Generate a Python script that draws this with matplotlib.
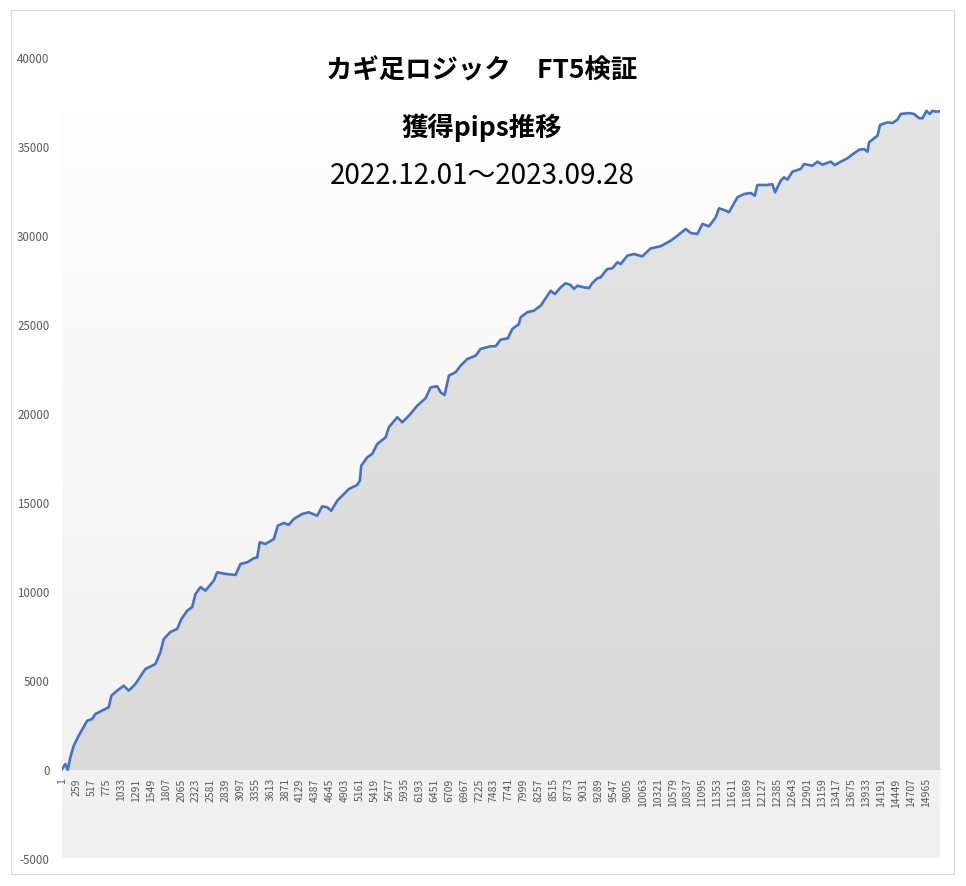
import numpy as np
import matplotlib
matplotlib.use("Agg")
from matplotlib import pyplot as plt
from matplotlib.colors import LinearSegmentedColormap
from matplotlib.patches import Rectangle

plt.rcParams['font.family'] = ['Noto Sans CJK JP', 'DejaVu Sans']

# trade number and cumulative pips
trade_no = [1, 60, 100, 147, 204, 290, 436, 523, 580, 810, 857, 956, 1070, 1157,
            1273, 1446, 1620, 1706, 1763, 1880, 1996, 2070, 2169, 2256, 2313, 2400,
            2486, 2630, 2689, 2833, 3006, 3093, 3209, 3323, 3382, 3427, 3526, 3670,
            3739, 3843, 3930, 4016, 4162, 4276, 4422, 4508, 4595, 4665, 4768, 4883,
            4970, 5115, 5160, 5185, 5289, 5375, 5462, 5606, 5663, 5808, 5895, 6010,
            6155, 6299, 6386, 6502, 6559, 6628, 6703, 6819, 6906, 7021, 7165, 7252,
            7425, 7512, 7599, 7725, 7801, 7916, 7945, 8061, 8176, 8292, 8378, 8465,
            8540, 8639, 8725, 8812, 8869, 8928, 9042, 9129, 9188, 9275, 9332, 9390,
            9448, 9535, 9621, 9679, 9795, 9909, 10054, 10198, 10372, 10545, 10661,
            10805, 10892, 11008, 11094, 11208, 11324, 11382, 11498, 11555, 11701,
            11815, 11931, 12001, 12047, 12220, 12307, 12352, 12451, 12508, 12567,
            12654, 12798, 12855, 13000, 13087, 13174, 13318, 13387, 13491, 13607,
            13665, 13808, 13895, 13954, 13981, 14068, 14127, 14172, 14300, 14387,
            14473, 14530, 14674, 14761, 14848, 14907, 14976, 15033, 15080, 15137, 15210]
pips = [0, 280, -40, 670, 1310, 1870, 2710, 2810, 3090, 3470, 4120, 4400, 4680, 4400,
        4780, 5620, 5900, 6570, 7300, 7700, 7870, 8430, 8890, 9100, 9830, 10220,
        10020, 10580, 11050, 10960, 10900, 11520, 11610, 11840, 11890, 12740, 12640, 12920,
        13670, 13820, 13720, 14050, 14330, 14420, 14230, 14760, 14700, 14510, 15070, 15450,
        15730, 15960, 16200, 17040, 17510, 17700, 18260, 18630, 19200, 19760, 19480, 19850,
        20410, 20830, 21440, 21500, 21160, 21010, 22100, 22290, 22660, 23030, 23220, 23600,
        23750, 23750, 24120, 24200, 24720, 25000, 25380, 25660, 25750, 26030, 26440, 26870,
        26680, 27060, 27290, 27190, 26970, 27150, 27060, 27020, 27300, 27570, 27620, 27870,
        28090, 28130, 28470, 28370, 28840, 28930, 28800, 29250, 29370, 29680, 29960,
        30340, 30110, 30060, 30620, 30490, 30990, 31500, 31370, 31280, 32120,
        32300, 32360, 32210, 32810, 32810, 32860, 32400, 33050, 33240, 33110,
        33560, 33710, 33990, 33890, 34120, 33950, 34120, 33930, 34120, 34310,
        34460, 34790, 34830, 34680, 35210, 35430, 35580, 36180, 36330, 36290,
        36480, 36800, 36850, 36800, 36560, 36560, 36980, 36800, 36980, 36930, 36950]

last_trade = 15210
x_ticks = list(range(1, 15000, 258))   # 1, 259, 517 ... 14965
x_tick_labels = [str(t) for t in x_ticks]
y_ticks = [-5000, 0, 5000, 10000, 15000, 20000, 25000, 30000, 35000, 40000]

title_lines = ["カギ足ロジック　FT5検証", "獲得pips推移", "2022.12.01～2023.09.28"]

fig = plt.figure(figsize=(9.66, 8.87), dpi=100)
ax = fig.add_axes([62/966, 28/887, 878/966, 801/887])

# plot area background: soft white -> grey gradient
bg = LinearSegmentedColormap.from_list("bg", ["#F0F0F0", "#FFFFFF"])
ax.imshow(np.linspace(0, 1, 256).reshape(-1, 1), cmap=bg, origin='lower',
          extent=[0, 1, 0, 1], transform=ax.transAxes, aspect='auto', zorder=0)

# area under the line, also a light gradient
poly = ax.fill_between(trade_no, pips, 0, color='none', lw=0)
area = LinearSegmentedColormap.from_list("area", ["#D9D9D9", "#E4E4E4"])
im = ax.imshow(np.linspace(0, 1, 256).reshape(-1, 1), cmap=area, origin='lower',
               extent=[1, last_trade, 0, max(pips)], aspect='auto', zorder=1)
im.set_clip_path(poly.get_paths()[0], transform=ax.transData)

ax.plot(trade_no, pips, color='#4472C4', lw=1.9, zorder=3)

# category axis sits on the zero line (set this before the tick labels, it resets them)
for side in ['top', 'right', 'left']:
    ax.spines[side].set_visible(False)
ax.spines['bottom'].set_position(('data', 0))
ax.spines['bottom'].set_color('#D9D9D9')
ax.spines['bottom'].set_linewidth(0.8)
ax.spines['bottom'].set_zorder(2)

ax.set_xlim(1, last_trade)
ax.set_ylim(-5000, 40000)
ax.set_xticks(x_ticks)
ax.set_xticklabels(x_tick_labels, rotation=90, fontsize=7.5, color='#595959')
ax.set_yticks(y_ticks)
ax.set_yticklabels([str(v) for v in y_ticks], fontsize=8.3, color='#595959')
ax.tick_params(axis='both', length=0)
ax.tick_params(axis='y', pad=9)
ax.tick_params(axis='x', pad=6)

fig.text(0.499, 1 - 71/887, title_lines[0], ha='center', va='center', fontsize=19, fontweight='bold')
fig.text(0.499, 1 - 128/887, title_lines[1], ha='center', va='center', fontsize=19, fontweight='bold')
fig.text(0.499, 1 - 176/887, title_lines[2], ha='center', va='center', fontsize=20)

# chart frame
fig.patches.append(Rectangle((11/966, 12/887), 943/966, 864/887, transform=fig.transFigure,
                             fill=False, edgecolor='#D9D9D9', lw=0.8))

plt.savefig("out.png", dpi=100)
